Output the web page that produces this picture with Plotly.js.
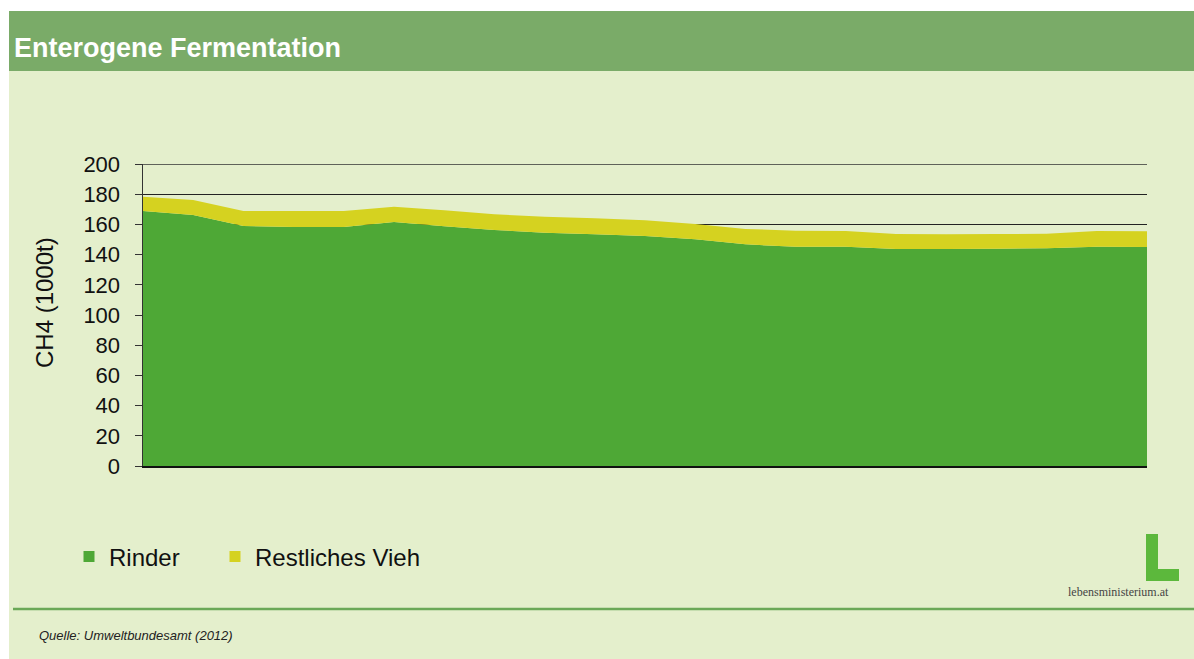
<!DOCTYPE html>
<html>
<head>
<meta charset="utf-8">
<script src="https://cdn.plot.ly/plotly-3.0.1.min.js"></script>
<style>
  html, body { margin: 0; padding: 0; background: #ffffff; }
  #chart { position: absolute; left: 9px; top: 11px; width: 1185px; height: 648px; }
</style>
</head>
<body>
<div id="chart"></div>
<script>
// CH4 emissions from enteric fermentation, 1000 t
var years = [1990, 1991, 1992, 1993, 1994, 1995, 1996, 1997, 1998, 1999, 2000,
             2001, 2002, 2003, 2004, 2005, 2006, 2007, 2008, 2009, 2010];
var rinder = [168.9, 166.2, 158.9, 158.3, 158.3, 161.6, 158.8, 156.3, 154.5, 153.4, 152.3,
              150.1, 146.8, 145.2, 145.2, 143.7, 143.7, 143.9, 144.2, 145.2, 145.0];
var restlichesVieh = [9.4, 10.0, 10.0, 10.6, 10.6, 10.1, 10.6, 10.4, 10.6, 10.6, 10.4,
                      10.2, 10.2, 10.6, 10.4, 9.9, 9.7, 9.7, 9.6, 10.4, 10.4];
var seriesNames = ['Rinder', 'Restliches Vieh'];
var yTicks = [0, 20, 40, 60, 80, 100, 120, 140, 160, 180, 200];

var green = '#4ea836',
    yellow = '#d5d220',
    bg = '#e4efcc',
    band = '#7aab68',
    font = 'Liberation Sans, Arial, sans-serif';

// plot area in page pixels: x 143..1147, y 164..466
function px(x) { return (x - 143) / 1004 }
function py(y) { return (466 - y) / 302 }

var rinderArea = {
  x: years, y: rinder, stackgroup: 'one', mode: 'none',
  fillcolor: green, name: seriesNames[0], showlegend: false
};
var viehArea = {
  x: years, y: restlichesVieh, stackgroup: 'one', mode: 'none',
  fillcolor: yellow, name: seriesNames[1], showlegend: false
};
// legend entries with square keys, one legend box each
var rinderKey = {
  x: [null], y: [null], mode: 'markers', name: seriesNames[0], legend: 'legend',
  marker: {symbol: 'square', size: 11, color: green}
};
var viehKey = {
  x: [null], y: [null], mode: 'markers', name: seriesNames[1], legend: 'legend2',
  marker: {symbol: 'square', size: 11, color: yellow}
};

var shapes = [
  // header band
  {type: 'rect', xref: 'paper', yref: 'paper', layer: 'below',
   x0: px(9), x1: px(1194), y0: py(71), y1: py(11),
   fillcolor: band, line: {width: 0}},
  // top gridline (plotly drops the one on the range edge)
  {type: 'line', xref: 'paper', yref: 'y', layer: 'below',
   x0: 0, x1: 1, y0: 200, y1: 200,
   line: {color: '#333', width: 1.5}},
  // footer rule
  {type: 'line', xref: 'paper', yref: 'paper',
   x0: px(13), x1: px(1194), y0: py(609), y1: py(609),
   line: {color: '#6aa857', width: 2.5}},
  // logo "L"
  {type: 'path', xref: 'paper', yref: 'paper',
   path: 'M ' + px(1146) + ' ' + py(534) + ' L ' + px(1158) + ' ' + py(534) +
         ' L ' + px(1158) + ' ' + py(569) + ' L ' + px(1179) + ' ' + py(569) +
         ' L ' + px(1179) + ' ' + py(581) + ' L ' + px(1146) + ' ' + py(581) + ' Z',
   fillcolor: '#5cb83c', line: {width: 0}}
];

var annotations = [
  {text: 'CH4 (1000t)', xref: 'paper', yref: 'paper', x: px(44), y: py(303),
   textangle: -90, showarrow: false, xanchor: 'center', yanchor: 'middle',
   font: {family: font, size: 24, color: '#111'}},
  {text: '<i>Quelle: Umweltbundesamt (2012)</i>', xref: 'paper', yref: 'paper',
   x: px(37), y: py(635), xanchor: 'left', yanchor: 'middle', showarrow: false,
   font: {family: font, size: 13, color: '#222'}},
  {text: 'lebensministerium.at', xref: 'paper', yref: 'paper',
   x: px(1118), y: py(592), xanchor: 'center', yanchor: 'middle', showarrow: false,
   font: {family: 'Liberation Serif, Times New Roman, serif', size: 12, color: '#444'}}
];

var legendStyle = {
  orientation: 'h',
  xanchor: 'left',
  y: py(557), yanchor: 'middle',
  bgcolor: 'rgba(0,0,0,0)',
  font: {family: font, size: 24, color: '#111'},
  itemwidth: 30
};

var layout = {
  width: 1185,
  height: 648,
  paper_bgcolor: bg,
  plot_bgcolor: bg,
  margin: {l: 134, r: 47, t: 153, b: 193, pad: 0},
  title: {
    text: 'Enterogene Fermentation',
    xref: 'container', yref: 'container',
    x: 5 / 1185, xanchor: 'left',
    y: 1 - 37 / 648, yanchor: 'middle',
    font: {family: font, size: 27, color: '#ffffff', weight: 700}
  },
  xaxis: {
    range: [1990, 2010],
    showticklabels: false,
    ticks: '',
    showgrid: false,
    zeroline: false,
    showline: true,
    linecolor: '#111',
    linewidth: 1.5
  },
  yaxis: {
    range: [0, 200],
    tickvals: yTicks,
    ticks: 'outside',
    ticklen: 7,
    tickcolor: '#333',
    tickwidth: 1,
    ticklabelstandoff: 10,
    tickfont: {family: font, size: 22, color: '#111'},
    showgrid: true,
    gridcolor: '#222',
    gridwidth: 1,
    zeroline: false,
    showline: true,
    linecolor: '#333',
    linewidth: 1.5
  },
  showlegend: true,
  legend: Object.assign({}, legendStyle, {x: px(69)}),
  legend2: Object.assign({}, legendStyle, {x: px(215)}),
  shapes: shapes,
  annotations: annotations,
  hovermode: false
};

Plotly.newPlot('chart', [rinderArea, viehArea, rinderKey, viehKey], layout,
  {displayModeBar: false, staticPlot: true});
</script>
</body>
</html>
